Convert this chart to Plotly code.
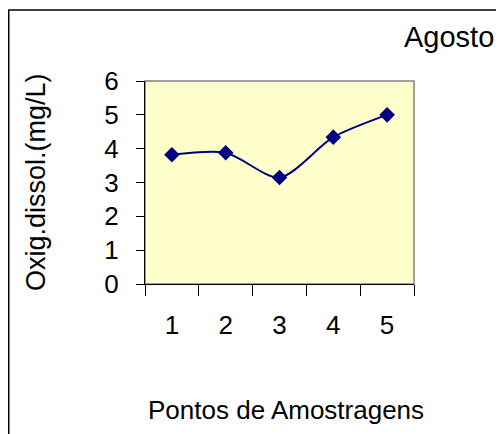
import plotly.graph_objects as go

pontos = ["1", "2", "3", "4", "5"]
oxigenio = [3.82, 3.88, 3.15, 4.34, 5.0]
y_ticks = [0, 1, 2, 3, 4, 5, 6]

W, H = 504, 434
OFF = 8  # page body margin
L, T, pw, ph = 145 - OFF, 81 - OFF, 269, 203
R, B = W - L - pw, H - T - ph

def px(xs):
    return (xs - OFF - L) / pw

def py(ys):
    return (H - B - (ys - OFF)) / ph

FONT = "Liberation Sans, Arial, sans-serif"

fig = go.Figure()
fig.add_trace(go.Scatter(
    x=pontos, y=oxigenio, mode="lines+markers",
    line=dict(color="#000080", width=2, shape="spline", smoothing=0.8),
    marker=dict(symbol="diamond", size=12, color="#000080"),
    showlegend=False,
))

fig.update_layout(
    width=W, height=H,
    margin=dict(l=L, r=R, t=T, b=B, pad=0),
    paper_bgcolor="white",
    plot_bgcolor="#FFFFCC",
    font=dict(family=FONT, color="black"),
    xaxis=dict(
        type="category", tickson="boundaries", range=[-0.5, 4.5],
        showline=True, linecolor="black", linewidth=1,
        ticks="outside", ticklen=11, tickcolor="black", tickwidth=1,
        tickfont=dict(size=26), showgrid=False, zeroline=False,
        ticklabelstandoff=18,
    ),
    yaxis=dict(
        range=[0, 6], tickvals=y_ticks,
        showline=True, linecolor="black", linewidth=1,
        ticks="outside", ticklen=8, tickcolor="black", tickwidth=1,
        tickfont=dict(size=26), showgrid=False, zeroline=False,
        ticklabelstandoff=12,
    ),
    shapes=[
        dict(type="rect", xref="paper", yref="paper", x0=0, x1=1, y0=0, y1=1,
             line=dict(color="#808080", width=1.5), layer="below"),
        dict(type="line", xref="paper", yref="paper",
             x0=px(8.75), x1=px(8.75), y0=py(10), y1=py(450),
             line=dict(color="black", width=1.5)),
        dict(type="line", xref="paper", yref="paper",
             x0=px(8), x1=px(520), y0=py(10), y1=py(10),
             line=dict(color="black", width=1.5)),
    ],
    annotations=[
        dict(text="Agosto", xref="paper", yref="paper", x=px(449), y=py(37),
             showarrow=False, xanchor="center", yanchor="middle",
             font=dict(size=29, family=FONT)),
        dict(text="Pontos de Amostragens", xref="paper", yref="paper",
             x=px(286), y=py(410), showarrow=False, xanchor="center",
             yanchor="middle", font=dict(size=26, family=FONT)),
        dict(text="Oxig.dissol.(mg/L)", xref="paper", yref="paper",
             x=px(36), y=py(182), showarrow=False, xanchor="center",
             yanchor="middle", textangle=-90, font=dict(size=27, family=FONT)),
    ],
)

fig.write_html("out.html")
